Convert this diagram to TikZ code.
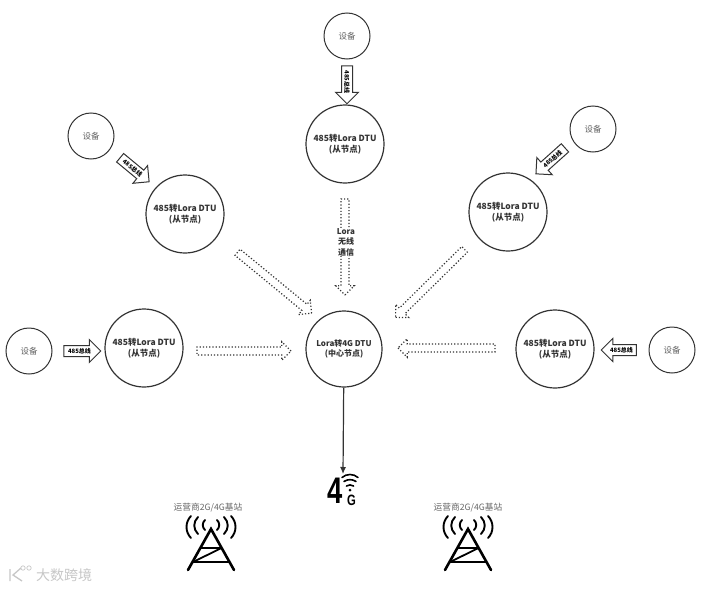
\documentclass[tikz,border=0pt]{standalone}
\usepackage{fontspec}
\setmainfont{Noto Sans CJK SC}
\newfontfamily\fourgfont{Liberation Sans}
\usetikzlibrary{shapes.arrows,calc,arrows.meta}
\definecolor{ringcol}{HTML}{333333}
\definecolor{txtgrey}{HTML}{666666}
\definecolor{txtdark}{HTML}{333333}
\tikzset{
 x=1pt,y=-1pt,
 dturing/.style={circle,draw=ringcol,line width=1.2pt,minimum size=78pt,inner sep=0pt,align=center,text=txtdark,font=\fontsize{8.5}{10.5}\selectfont\bfseries},
 devring/.style={circle,draw=ringcol,line width=1pt,minimum size=46pt,inner sep=0pt,text=txtgrey,font=\fontsize{8.5}{10}\selectfont},
 busarrow/.style={single arrow,draw=ringcol,fill=white,line width=1pt,inner xsep=0pt,inner ysep=5pt,single arrow head extend=6pt,single arrow tip angle=90,anchor=center},
 airarrow/.style={single arrow,draw=ringcol,line width=1.2pt,dash pattern=on 1.2pt off 2pt,inner xsep=0pt,inner ysep=3.4pt,single arrow head extend=5.2pt,single arrow tip angle=90,anchor=center},
 buslabel/.style={text=black,inner sep=0pt,font=\fontsize{6}{7}\selectfont\bfseries},
 toptext/.style={text=txtgrey,font=\fontsize{8.7}{10}\selectfont},
 towerleg/.style={line width=2.6pt,black,line cap=round,line join=miter},
 towerbar/.style={line width=1.8pt,black},
 towerwave/.style={line width=1.9pt,black,line cap=round},
 wifiwave/.style={line width=1.6pt,black,line cap=round},
}
\newcommand{\blockarrow}[4]{% style, from, to, name
 \path let \p1=($(#3)-(#2)$),\n1={atan2(\y1,\x1)},\n2={veclen(\x1,\y1)} in
   node[#1,minimum height=\n2,rotate=\n1] (#4) at ($(#2)!.5!(#3)$) {};
}
\newcommand{\tower}[2]{% x of apex, y of apex
 \begin{scope}[shift={(#1,#2)}]
  \draw[towerleg] (-23,41) -- (0,0) -- (23,41);
  \draw[towerbar] (-10.5,19) -- (10.5,19);
  \draw[towerbar] (-18,33) -- (18,33);
  \draw[towerbar] (-18,33) -- (10.5,19);
  \draw[towerwave] (-6,-9) .. controls (-9,-6) and (-9,-2) .. (-6,1);
  \draw[towerwave] (6,-9) .. controls (9,-6) and (9,-2) .. (6,1);
  \draw[towerwave] (-13,-12) .. controls (-18,-7) and (-18,0) .. (-13,5);
  \draw[towerwave] (13,-12) .. controls (18,-7) and (18,0) .. (13,5);
  \draw[towerwave] (-20,-13) .. controls (-26,-7) and (-26,3) .. (-20,9);
  \draw[towerwave] (20,-13) .. controls (26,-7) and (26,3) .. (20,9);
 \end{scope}
}
\begin{document}
\begin{tikzpicture}
\useasboundingbox (0,0) rectangle (701,589);
\fill[white] (0,0) rectangle (701,589);
% device circles
\node[devring] (d1) at (347,36) {设备};
\node[devring] (d2) at (91,136) {设备};
\node[devring] (d3) at (593,129) {设备};
\node[devring] (d4) at (29,351) {设备};
\node[devring] (d5) at (672,350) {设备};
% DTU circles
\node[dturing] (n1) at (345,144) {485转Lora DTU\\(从节点)};
\node[dturing] (n2) at (185,214) {485转Lora DTU\\(从节点)};
\node[dturing] (n3) at (508,212) {485转Lora DTU\\(从节点)};
\node[dturing] (n4) at (144,348) {485转Lora DTU\\(从节点)};
\node[dturing] (n5) at (555,349) {485转Lora DTU\\(从节点)};
\node[dturing,minimum size=76pt,font=\fontsize{8}{10.5}\selectfont\bfseries] (c) at (344,349) {Lora转4G DTU\\(中心节点)};
% end points
\coordinate (b1s) at (347,63);  \coordinate (b1e) at (347,101);
\coordinate (b2s) at (118,156); \coordinate (b2e) at (147,180);
\coordinate (b3s) at (567,146); \coordinate (b3e) at (538,172);
\coordinate (b4s) at (61,351);  \coordinate (b4e) at (98,351);
\coordinate (b5s) at (639,350); \coordinate (b5e) at (604,350);
\coordinate (a1s) at (345,197); \coordinate (a1e) at (345,293);
\coordinate (a2s) at (236,251); \coordinate (a2e) at (310,312);
\coordinate (a3s) at (466,248); \coordinate (a3e) at (397,316);
\coordinate (a4s) at (195,351); \coordinate (a4e) at (289,351);
\coordinate (a5s) at (497,348); \coordinate (a5e) at (400,348);
% bus arrows
\blockarrow{busarrow}{b1s}{b1e}{ba1}
\blockarrow{busarrow}{b2s}{b2e}{ba2}
\blockarrow{busarrow}{b3s}{b3e}{ba3}
\blockarrow{busarrow}{b4s}{b4e}{ba4}
\blockarrow{busarrow}{b5s}{b5e}{ba5}
\node[buslabel,rotate=-90] at (ba1) {485总线};
\node[buslabel,rotate=-39] at (ba2) {485总线};
\node[buslabel,rotate=42] at (ba3) {485总线};
\node[buslabel] at (ba4) {485总线};
\node[buslabel] at (ba5) {485总线};
% wireless arrows
\blockarrow{airarrow}{a1s}{a1e}{aa1}
\blockarrow{airarrow}{a2s}{a2e}{aa2}
\blockarrow{airarrow}{a3s}{a3e}{aa3}
\blockarrow{airarrow}{a4s}{a4e}{aa4}
\blockarrow{airarrow}{a5s}{a5e}{aa5}
\node[fill=white,inner sep=0.5pt,align=center,text=txtdark,font=\fontsize{8}{10.5}\selectfont\bfseries] at (346,242) {Lora\\无线\\通信};
% 4G
\node[inner sep=0pt,font=\fourgfont\fontsize{37}{37}\selectfont\bfseries,xscale=.74] (fg) at (335,491) {4};
\node[inner sep=0pt,font=\fourgfont\fontsize{15}{15}\selectfont\bfseries,xscale=.75] (gg) at (351.5,500) {G};
\fill (350,490) circle (1.5);
\draw[wifiwave] (346.5,486) .. controls (348.5,484.5) and (351.5,484.5) .. (353.5,486);
\draw[wifiwave] (344,481.5) .. controls (347.5,479) and (352.5,479) .. (356,481.5);
\draw[wifiwave] (342,477.5) .. controls (346.5,473.5) and (353.5,473.5) .. (358,477.5);
\coordinate (fgtop) at (343,474);
\draw[line width=1.2pt,ringcol,-{Latex[length=7pt,width=6pt]}] (c) -- (fgtop);
% towers
\node[toptext] (t1) at (208,508) {运营商2G/4G基站};
\node[toptext] (t2) at (468,508) {运营商2G/4G基站};
\tower{211}{529}
\tower{468}{529}
% watermark
\node[text=black!22,inner sep=0pt,font=\fontsize{14}{14}\selectfont] (wm) at (64,575) {大数跨境};
\draw[black!22,line width=1.3pt] (10,569) -- (10,581) (21,568) -- (13,575) -- (22,581);
\draw[black!22,line width=.7pt] (23,568) circle (2.2) (29,568) circle (2.2);
\end{tikzpicture}
\end{document}
